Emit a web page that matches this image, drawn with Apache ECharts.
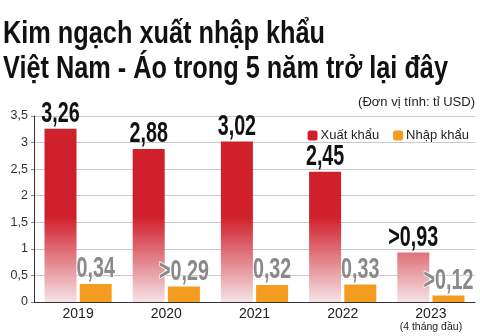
<!DOCTYPE html>
<html>
<head>
<meta charset="utf-8">
<script src="https://cdn.jsdelivr.net/npm/echarts@6/dist/echarts.min.js"></script>
<style>
  html, body { margin: 0; padding: 0; background: #fff; }
  #chart { width: 480px; height: 336px; }
</style>
</head>
<body>
<div id="chart"></div>
<script>
// Vietnam - Austria trade turnover, billions USD
const years = ['2019', '2020', '2021', '2022', '2023\n(4 tháng đầu)'];
const exportValues = [3.26, 2.88, 3.02, 2.45, 0.93];
const importValues = [0.34, 0.29, 0.32, 0.33, 0.12];
const exportPrefix = ['', '', '', '', '>'];
const importPrefix = ['', '>', '', '', '>'];
const yTicks = [0, 0.5, 1, 1.5, 2, 2.5, 3, 3.5];
const titleLines = ['Kim ngạch xuất nhập khẩu', 'Việt Nam - Áo trong 5 năm trở lại đây'];

const BOLD_FAMILY = '"Liberation Sans", Arial, sans-serif';
const TITLE_FONT = 'bold 31px ' + BOLD_FAMILY;
const TITLE_WIDTHS = [322, 445];     // rendered width of each heading line
const LABEL_SQUEEZE = 0.68;          // horizontal squeeze for the big value labels
const fmt = v => String(v).replace('.', ',');

// width of a string in a given canvas font
const measureCtx = document.createElement('canvas').getContext('2d');
function textWidth(str, font) {
  measureCtx.font = font;
  return measureCtx.measureText(str).width;
}

const chart = echarts.init(document.getElementById('chart'));

function redGradient(yTop, yBottom) {
  return {
    type: 'linear', x: 0, y: yTop, x2: 0, y2: yBottom, global: true,
    colorStops: [
      { offset: 0, color: '#d0202c' },
      { offset: 1, color: '#f5e2e6' }
    ]
  };
}

// heading drawn as two squeezed text lines
const titleGraphics = titleLines.map((line, i) => ({
  type: 'text', x: 3, y: 19 + i * 35,
  scaleX: TITLE_WIDTHS[i] / textWidth(line, TITLE_FONT),
  style: { text: line, font: TITLE_FONT, fill: '#111' }
}));

const option = {
  animation: false,
  textStyle: { fontFamily: '"Liberation Sans", Arial, sans-serif' },
  graphic: titleGraphics.concat([{
    type: 'text', right: 5, top: 96,
    style: { text: '(Đơn vị tính: tỉ USD)', font: '13px "Liberation Sans", Arial, sans-serif', fill: '#222' }
  }]),
  legend: {
    right: 6, top: 124, itemWidth: 10, itemHeight: 10, itemGap: 14,
    textStyle: { fontSize: 13, color: '#222', padding: [0, 0, 0, -2] },
    data: [
      { name: 'Xuất khẩu', itemStyle: { color: '#d0202c' } },
      { name: 'Nhập khẩu', itemStyle: { color: '#f39c1f' } }
    ]
  },
  grid: { left: 34, right: 5, top: 116, bottom: 34 },
  xAxis: {
    type: 'category', data: years,
    axisLine: { lineStyle: { color: '#333', width: 1 } },
    axisTick: { inside: true, length: 9, lineStyle: { color: '#555' } },
    axisLabel: {
      interval: 0, color: '#222', margin: 5, fontSize: 14, lineHeight: 14,
      formatter: v => v.includes('\n') ? v.replace('\n', '\n{s|') + '}' : v,
      rich: { s: { fontSize: 10.5, lineHeight: 12, color: '#222' } }
    }
  },
  yAxis: {
    type: 'value', min: yTicks[0], max: yTicks[yTicks.length - 1], interval: 0.5,
    axisLine: { show: true, lineStyle: { color: '#333' } },
    axisTick: { show: true, length: 3, lineStyle: { color: '#888' } },
    splitLine: { lineStyle: { color: '#c8c8c8' } },
    axisLabel: { color: '#333', fontSize: 12.5, margin: 6, formatter: v => fmt(v) }
  },
  series: [
    {
      name: 'Xuất khẩu', type: 'bar', barWidth: 32, barGap: '10%',
      data: exportValues,
      itemStyle: { color: '#d0202c' },
      label: {
        show: true, position: 'top', distance: 0,
        fontFamily: BOLD_FAMILY, fontWeight: 'bold', fontSize: 29, color: '#111',
        formatter: p => exportPrefix[p.dataIndex] + fmt(p.value)
      }
    },
    {
      name: 'Nhập khẩu', type: 'bar', barWidth: 32,
      data: importValues,
      itemStyle: { color: '#f39c1f' },
      label: {
        show: true, position: 'top', distance: 0,
        fontFamily: BOLD_FAMILY, fontWeight: 'bold', fontSize: 29, color: '#8a8a8a',
        textBorderColor: '#fff', textBorderWidth: 1.5,
        formatter: p => importPrefix[p.dataIndex] + fmt(p.value)
      }
    }
  ]
};

chart.setOption(option);

// Fade the export bars toward the baseline using a fixed vertical gradient
const yTop = chart.convertToPixel({ yAxisIndex: 0 }, 1.6);
const yBottom = chart.convertToPixel({ yAxisIndex: 0 }, 0);
chart.setOption({ series: [{ itemStyle: { color: redGradient(yTop, yBottom) } }] });

// Narrow the value labels so they read like a condensed face
function squeezeLabels() {
  const model = chart.getModel();
  [0, 1].forEach(si => {
    const data = model.getSeriesByIndex(si).getData();
    data.each(idx => {
      const el = data.getItemGraphicEl(idx);
      const txt = el && el.getTextContent && el.getTextContent();
      if (txt) { txt.scaleX = LABEL_SQUEEZE; txt.markRedraw(); }
    });
  });
  chart.getZr().refresh();
}
squeezeLabels();
</script>
</body>
</html>
